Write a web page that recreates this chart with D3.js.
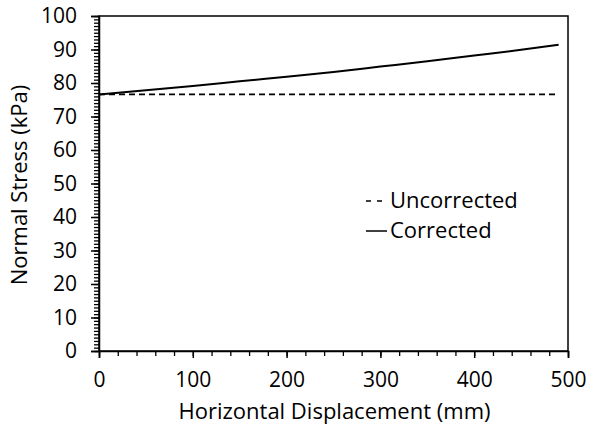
<!DOCTYPE html>
<html><head><meta charset="utf-8">
<script src="https://cdn.jsdelivr.net/npm/d3@7"></script>
<style>body{margin:0;background:#fff}svg{display:block;font-family:"Open Sans",sans-serif}</style>
</head><body><svg id="c" width="590" height="431"></svg>
<script>
const displacement = [0, 50, 100, 150, 200, 250, 300, 350, 400, 450, 490];
const corrected    = [76.6, 77.8, 79.1, 80.5, 81.9, 83.3, 84.9, 86.5, 88.2, 89.9, 91.4];
const uncorrected  = [76.6, 76.6, 76.6, 76.6, 76.6, 76.6, 76.6, 76.6, 76.6, 76.6, 76.6];
const xTicks = [0, 100, 200, 300, 400, 500];
const yTicks = [0, 10, 20, 30, 40, 50, 60, 70, 80, 90, 100];
const seriesNames = ["Uncorrected", "Corrected"];

const FONT = "Open Sans";
const FS = 21, FT = 22;
const svg = d3.select("#c");
const L = 99, R = 568, T = 16, B = 351;
const x = d3.scaleLinear().domain([0, 500]).range([L, R]);
const y = d3.scaleLinear().domain([0, 100]).range([B, T]);

// frame
svg.append("rect").attr("x", L).attr("y", T).attr("width", R - L).attr("height", B - T)
  .attr("fill", "none").attr("stroke", "#000").attr("stroke-width", 1.5);

// y axis
const yAx = svg.append("g").attr("transform", `translate(${L},0)`)
  .call(d3.axisLeft(y).tickValues(d3.range(0, 101, 1)).tickSize(5).tickFormat(""));
yAx.select(".domain").remove();
yAx.selectAll("line").attr("stroke-width", 1.3);
const yMaj = svg.append("g").attr("transform", `translate(${L},0)`)
  .call(d3.axisLeft(y).tickValues(yTicks).tickSize(8).tickPadding(14));
yMaj.select(".domain").attr("stroke-width", 1.5);
yMaj.selectAll("line").attr("stroke-width", 1.5);
yMaj.selectAll("text").style("font-size", FS + "px").style("font-family", FONT).attr("fill", "#000");

// x axis
const xAx = svg.append("g").attr("transform", `translate(0,${B})`)
  .call(d3.axisBottom(x).tickValues(d3.range(0, 501, 20)).tickSize(5).tickFormat(""));
xAx.select(".domain").remove();
xAx.selectAll("line").attr("stroke-width", 1.3);
const xMaj = svg.append("g").attr("transform", `translate(0,${B})`)
  .call(d3.axisBottom(x).tickValues(xTicks).tickSize(7).tickPadding(14));
xMaj.select(".domain").attr("stroke-width", 1.5);
xMaj.selectAll("line").attr("stroke-width", 1.5);
xMaj.selectAll("text").style("font-size", FS + "px").style("font-family", FONT).attr("fill", "#000");

// lines
const line = d3.line().x((d, i) => x(displacement[i])).y(d => y(d));
svg.append("path").datum(uncorrected).attr("d", line).attr("fill", "none")
  .attr("stroke", "#000").attr("stroke-width", 1.8).attr("stroke-dasharray", "6,4");
svg.append("path").datum(corrected).attr("d", line.curve(d3.curveMonotoneX)).attr("fill", "none")
  .attr("stroke", "#000").attr("stroke-width", 2);

// axis titles
svg.append("text").attr("x", (L + R) / 2 + 1).attr("y", 419).attr("text-anchor", "middle")
  .style("font-size", FT + "px").text("Horizontal Displacement (mm)");
svg.append("text").attr("transform", "translate(27,185) rotate(-90)").attr("text-anchor", "middle")
  .style("font-size", FT + "px").text("Normal Stress (kPa)");

// legend
const leg = [{name: seriesNames[0], dash: "5,6", yy: 201}, {name: seriesNames[1], dash: null, yy: 231}];
leg.forEach(d => {
  svg.append("line").attr("x1", 366).attr("x2", 387).attr("y1", d.yy).attr("y2", d.yy)
    .attr("stroke", "#000").attr("stroke-width", 1.5).attr("stroke-dasharray", d.dash);
  svg.append("text").attr("x", 390).attr("y", d.yy + 7).style("font-size", FT + "px").text(d.name);
});
</script></body></html>
